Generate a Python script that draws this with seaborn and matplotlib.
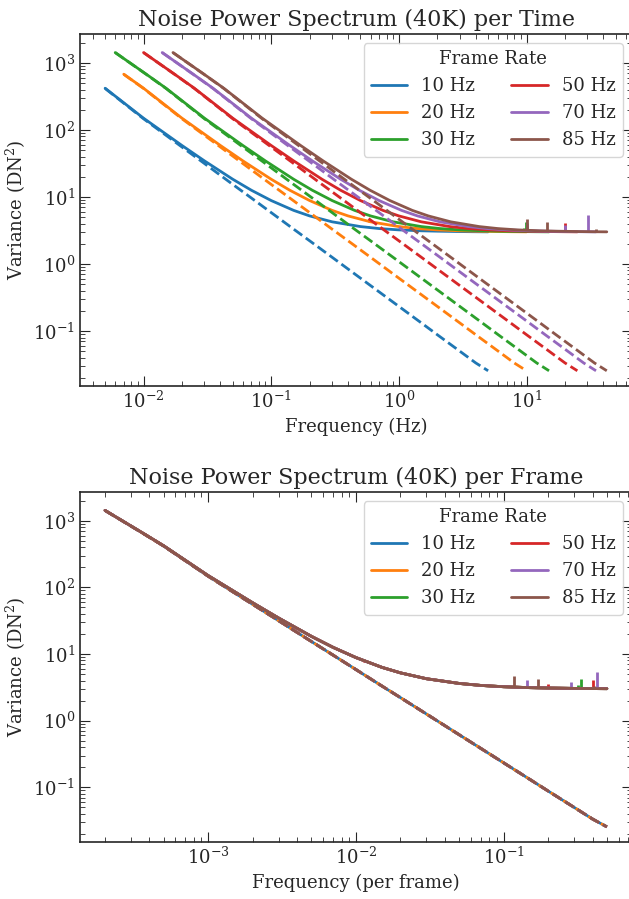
import matplotlib
matplotlib.use("Agg")
import matplotlib.pyplot as plt
import seaborn as sns
import numpy as np
import pandas as pd

# frame rates (Hz) and where each recording starts (cycles per frame)
rates = [10, 20, 30, 50, 70, 85]
start_per_frame = [5e-4, 3.5e-4, 2e-4, 2e-4, 2e-4, 2e-4]

# spectrum (all rates collapse onto it)
freq_per_frame = [2e-4, 3.5e-4, 5e-4, 1e-3, 2e-3, 3e-3, 5e-3, 7e-3, 1e-2, 1.5e-2,
                  2e-2, 3e-2, 5e-2, 7e-2, 0.1, 0.15, 0.2, 0.3, 0.4, 0.5]
var_total = [1430, 680, 420, 150, 58.7, 34.6, 18.4, 12.6, 8.85, 6.31,
             5.22, 4.26, 3.62, 3.38, 3.23, 3.13, 3.09, 3.05, 3.03, 3.02]
var_fit = [1430, 677, 417, 147, 55.7, 31.6, 15.4, 9.64, 5.85, 3.31,
           2.22, 1.26, 0.615, 0.384, 0.233, 0.132, 0.088, 0.050, 0.0334, 0.0255]

# interference spikes: series index, frequency (per frame), peak and base
spike_series = [3, 1, 0, 5, 4, 5, 3, 4, 2, 2, 3, 4, 5]
spike_freq = [0.0113, 0.029, 0.057, 0.1176, 0.143, 0.171, 0.2, 0.286, 0.318, 0.333, 0.4, 0.429, 0.41]
spike_peak = [8.1, 4.5, 3.7, 4.7, 4.1, 4.2, 3.55, 3.8, 3.45, 4.2, 4.1, 5.4, 3.3]
spike_base = [7.5, 4.2, 3.6, 3.2, 3.15, 3.1, 3.1, 3.05, 3.05, 3.05, 3.03, 3.03, 3.03]

# axis limits
time_xlim = (3.18e-3, 67.0)
frame_xlim = (1.355e-4, 0.74)
var_ylim = (0.0151, 2700)

sns.set_style("ticks")
plt.rcParams['font.family'] = ['DejaVu Serif']
plt.rcParams['mathtext.fontset'] = 'dejavuserif'
plt.rcParams.update({
    'xtick.direction': 'in', 'ytick.direction': 'in',
    'xtick.top': True, 'ytick.right': True,
    'xtick.major.size': 7, 'ytick.major.size': 7,
    'xtick.minor.size': 3.5, 'ytick.minor.size': 3.5,
    'xtick.minor.visible': True, 'ytick.minor.visible': True,
    'axes.linewidth': 1.2,
    'xtick.labelsize': 13, 'ytick.labelsize': 13,
})

colors = sns.color_palette('tab10', len(rates))
fig = plt.figure(figsize=(6.29, 8.99), dpi=100)
ax_time = fig.add_axes([0.1272, 0.5706, 0.8776, 0.3915])
ax_frame = fig.add_axes([0.1272, 0.0634, 0.8776, 0.3893])

f_pf = np.array(freq_per_frame)
for ax, per_time in [(ax_time, True), (ax_frame, False)]:
    for i, rate in enumerate(rates):
        keep = f_pf >= start_per_frame[i] * 0.999
        x = f_pf[keep] * (rate if per_time else 1)
        df = pd.DataFrame({'freq': x,
                           'total': np.array(var_total)[keep],
                           'fit': np.array(var_fit)[keep]})
        sns.lineplot(data=df, x='freq', y='total', color=colors[i], lw=2,
                     label=f'{rate} Hz', ax=ax, estimator=None, sort=False)
        sel = [k for k, s in enumerate(spike_series) if s == i]
        if sel:
            sx = np.array([spike_freq[k] for k in sel]) * (rate if per_time else 1)
            ax.vlines(sx, [spike_base[k] for k in sel], [spike_peak[k] for k in sel],
                      color=colors[i], lw=2)
        sns.lineplot(data=df, x='freq', y='fit', color=colors[i], lw=2, ls='--',
                     ax=ax, estimator=None, sort=False, legend=False)
    ax.set_xscale('log')
    ax.set_yscale('log')
    ax.set_ylim(var_ylim)
    ax.set_ylabel('Variance (DN$^2$)', fontsize=13)
    ax.legend(title='Frame Rate', ncol=2, loc='upper right', fontsize=13,
              title_fontsize=13)

ax_time.set_xlim(time_xlim)
ax_frame.set_xlim(frame_xlim)
ax_time.set_title('Noise Power Spectrum (40K) per Time', fontsize=16)
ax_time.set_xlabel('Frequency (Hz)', fontsize=13)
ax_frame.set_title('Noise Power Spectrum (40K) per Frame', fontsize=16)
ax_frame.set_xlabel('Frequency (per frame)', fontsize=13)

fig.savefig('out.png', dpi=100)
